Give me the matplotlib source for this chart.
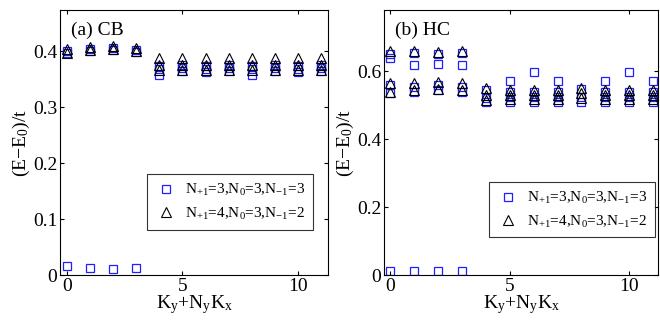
import matplotlib
matplotlib.use("Agg")
import matplotlib.pyplot as plt
import numpy as np

plt.rcParams['font.family'] = ['Liberation Serif', 'DejaVu Serif']
plt.rcParams['mathtext.fontset'] = 'custom'
plt.rcParams['mathtext.rm'] = 'Liberation Serif'
plt.rcParams['mathtext.it'] = 'Liberation Serif'

k = list(range(12))

# Panel (a) CB
cb_sq = [
    [0.017, 0.396, 0.400], [0.013, 0.400, 0.403], [0.011, 0.402, 0.405], [0.013, 0.399, 0.402],
    [0.357, 0.368, 0.374], [0.365, 0.370, 0.375], [0.362, 0.368, 0.374], [0.365, 0.370, 0.375],
    [0.357, 0.368, 0.374], [0.365, 0.370, 0.375], [0.362, 0.368, 0.374], [0.365, 0.370, 0.375],
]
cb_tri = [
    [0.397, 0.404], [0.401, 0.407], [0.403, 0.409], [0.400, 0.406],
    [0.366, 0.375, 0.388], [0.366, 0.375, 0.388], [0.366, 0.375, 0.388], [0.366, 0.375, 0.388],
    [0.366, 0.375, 0.388], [0.366, 0.375, 0.388], [0.366, 0.375, 0.388], [0.366, 0.375, 0.388],
]

# Panel (b) HC
hc_sq = [
    [0.012, 0.535, 0.560, 0.640, 0.652], [0.012, 0.540, 0.555, 0.618, 0.655],
    [0.012, 0.545, 0.560, 0.620, 0.652], [0.012, 0.540, 0.555, 0.618, 0.655],
    [0.510, 0.520, 0.545], [0.510, 0.525, 0.540, 0.572], [0.510, 0.525, 0.540, 0.597],
    [0.510, 0.525, 0.540, 0.572], [0.510, 0.525, 0.548], [0.510, 0.525, 0.540, 0.572],
    [0.510, 0.525, 0.540, 0.597], [0.510, 0.525, 0.540, 0.572],
]
hc_tri = [
    [0.540, 0.565, 0.660], [0.545, 0.565, 0.660], [0.548, 0.567, 0.657], [0.545, 0.565, 0.660],
    [0.515, 0.530, 0.550], [0.518, 0.530, 0.545], [0.518, 0.530, 0.545], [0.518, 0.530, 0.545],
    [0.520, 0.535, 0.550], [0.518, 0.530, 0.545], [0.518, 0.530, 0.545], [0.518, 0.530, 0.545],
]

sq_label = r'N$\mathregular{_{+1}}$=3,N$\mathregular{_0}$=3,N$\mathregular{_{-1}}$=3'
tri_label = r'N$\mathregular{_{+1}}$=4,N$\mathregular{_0}$=3,N$\mathregular{_{-1}}$=2'

panels = [
    dict(title='(a) CB', sq=cb_sq, tri=cb_tri, ylim=(0, 0.473), yticks=[0, 0.1, 0.2, 0.3, 0.4],
         yticklabels=['0', '0.1', '0.2', '0.3', '0.4'], xlim=(-0.3, 11.3),
         pos=[0.091, 0.156, 0.406, 0.813], leg=(0.945, 0.38)),
    dict(title='(b) HC', sq=hc_sq, tri=hc_tri, ylim=(0, 0.78), yticks=[0, 0.2, 0.4, 0.6],
         yticklabels=['0', '0.2', '0.4', '0.6'], xlim=(-0.25, 11.2),
         pos=[0.582, 0.156, 0.415, 0.813], leg=(0.99, 0.35)),
]

fig = plt.figure(figsize=(6.6, 3.26), dpi=100)
for p in panels:
    ax = fig.add_axes(p['pos'])
    xs, ys = [], []
    for ki, vals in zip(k, p['sq']):
        xs += [ki] * len(vals); ys += vals
    ax.plot(xs, ys, 's', ms=5.5, mfc='none', mec='#1f1fff', mew=0.9, ls='none', label=sq_label)
    xs, ys = [], []
    for ki, vals in zip(k, p['tri']):
        xs += [ki] * len(vals); ys += vals
    ax.plot(xs, ys, '^', ms=6.5, mfc='none', mec='black', mew=0.8, ls='none', label=tri_label)
    ax.set_xlim(p['xlim'])
    ax.set_ylim(p['ylim'])
    ax.set_xticks([0, 5, 10])
    ax.set_yticks(p['yticks'])
    ax.set_yticklabels(p['yticklabels'])
    ax.tick_params(direction='in', top=True, right=True, labelsize=14, length=3, pad=2)
    for s in ax.spines.values():
        s.set_linewidth(0.8)
    ax.set_ylabel(r'(E$-$E$\mathregular{_0}$)/t', fontsize=14, labelpad=1)
    ax.set_xlabel(r'K$\mathregular{_y}$+N$\mathregular{_y}$K$\mathregular{_x}$', fontsize=14, labelpad=-1)
    ax.text(0.04, 0.925, p['title'], transform=ax.transAxes, fontsize=14, va='center', ha='left')
    leg = ax.legend(loc='upper right', bbox_to_anchor=p['leg'], fontsize=11, frameon=True,
                    fancybox=False, edgecolor='black', handletextpad=0.5, borderpad=0.5,
                    labelspacing=0.5, handlelength=1.5, borderaxespad=0)
    leg.get_frame().set_linewidth(0.8)

fig.savefig('out.png', dpi=100)
